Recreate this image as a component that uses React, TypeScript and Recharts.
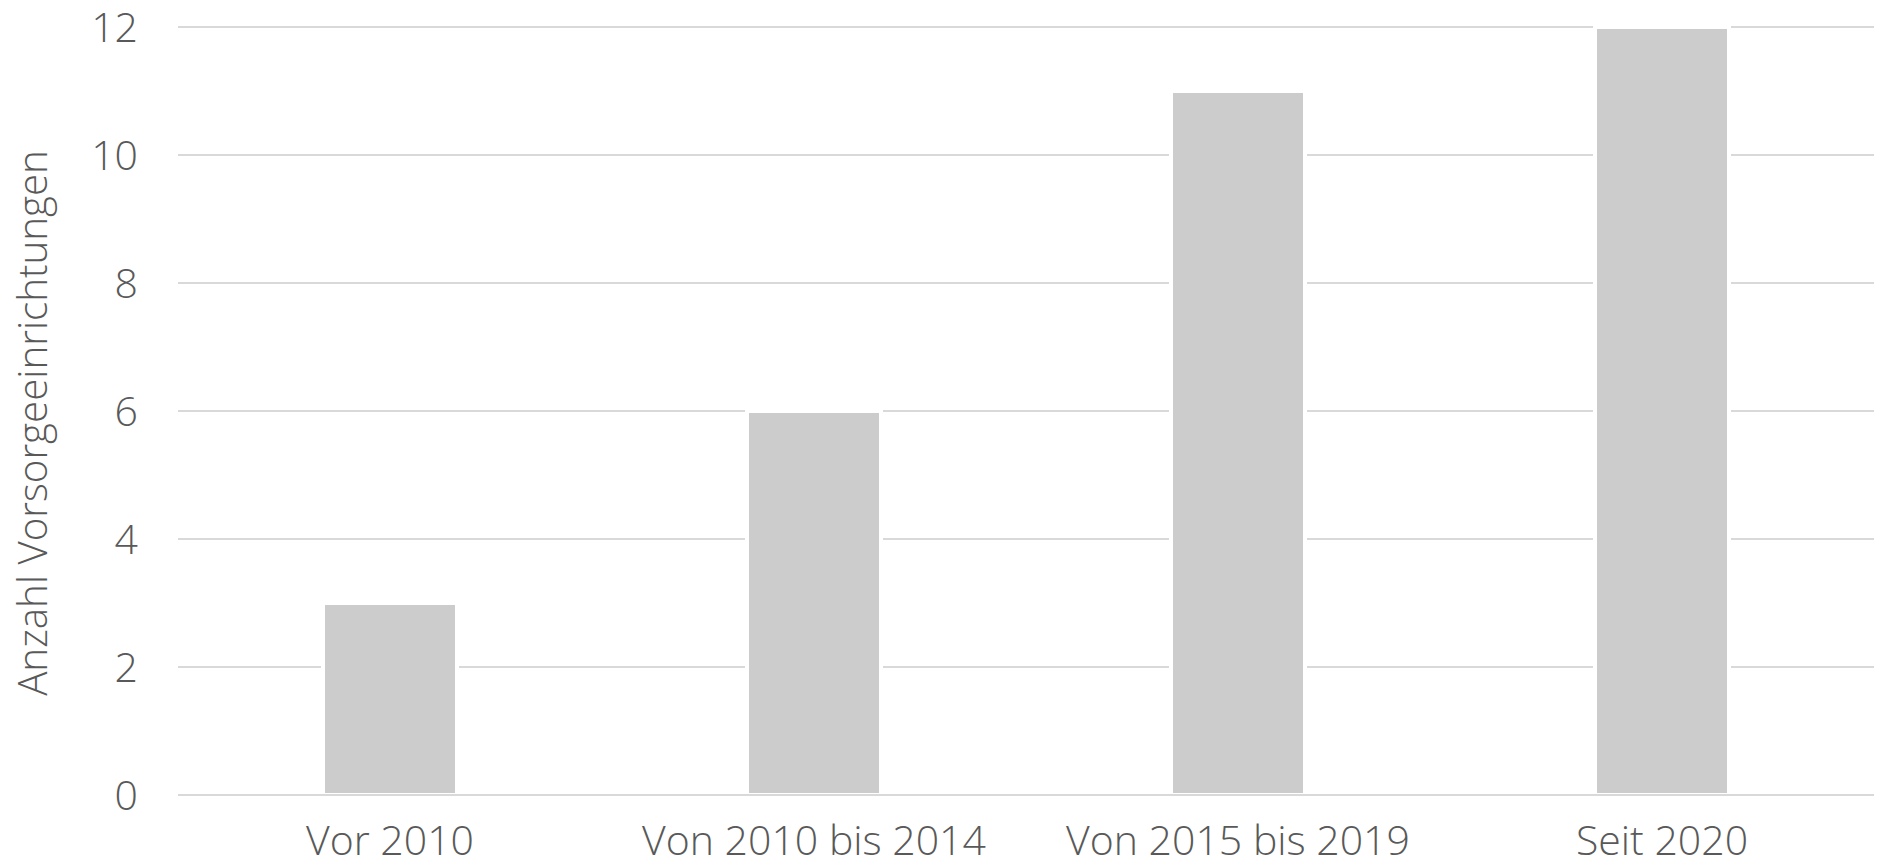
import React from 'react';
import { BarChart, Bar, XAxis, YAxis, CartesianGrid, Label } from 'recharts';

const categories = ['Vor 2010', 'Von 2010 bis 2014', 'Von 2015 bis 2019', 'Seit 2020'];
const counts = [3, 6, 11, 12];
const yTicks = [0, 2, 4, 6, 8, 10, 12];
const yAxisTitle = 'Anzahl Vorsorgeeinrichtungen';

const data = categories.map((c, i) => ({ name: c, value: counts[i] }));

const FONT = '"Open Sans", "Noto Sans", sans-serif';
const TEXT = '#595959';

const YTitle = (props: any) => {
  const cx = 31;
  const cy = 423;
  return (
    <text
      x={cx}
      y={cy}
      transform={`rotate(-90, ${cx}, ${cy})`}
      textAnchor="middle"
      dominantBaseline="central"
      fill={TEXT}
      fontFamily={FONT}
      fontWeight={300}
      fontSize={40.3}
    >
      {yAxisTitle}
    </text>
  );
};

export default function App() {
  return (
    <div style={{ position: 'absolute', left: 0, top: 0, width: 1877, height: 864, background: '#fff' }}>
      <BarChart
        width={1877}
        height={864}
        data={data}
        margin={{ top: 27, right: 3, left: 0, bottom: 0 }}
      >
        <CartesianGrid vertical={false} stroke="#d9d9d9" strokeWidth={2} />
        <XAxis
          dataKey="name"
          height={69}
          tickLine={false}
          tickSize={0}
          tickMargin={31}
          axisLine={{ stroke: '#d9d9d9', strokeWidth: 2 }}
          tick={{ fill: TEXT, fontSize: 41, fontFamily: FONT, fontWeight: 300 }}
          interval={0}
        />
        <YAxis
          width={178}
          domain={[0, 12]}
          ticks={yTicks}
          axisLine={false}
          tickLine={false}
          tickSize={0}
          tickMargin={40}
          tick={{ fill: TEXT, fontSize: 41, fontFamily: FONT, fontWeight: 300 }}
        >
          <Label content={<YTitle />} />
        </YAxis>
        <Bar
          dataKey="value"
          fill="#cccccc"
          stroke="#ffffff"
          strokeWidth={4}
          barSize={134}
          isAnimationActive={false}
        />
      </BarChart>
    </div>
  );
}
